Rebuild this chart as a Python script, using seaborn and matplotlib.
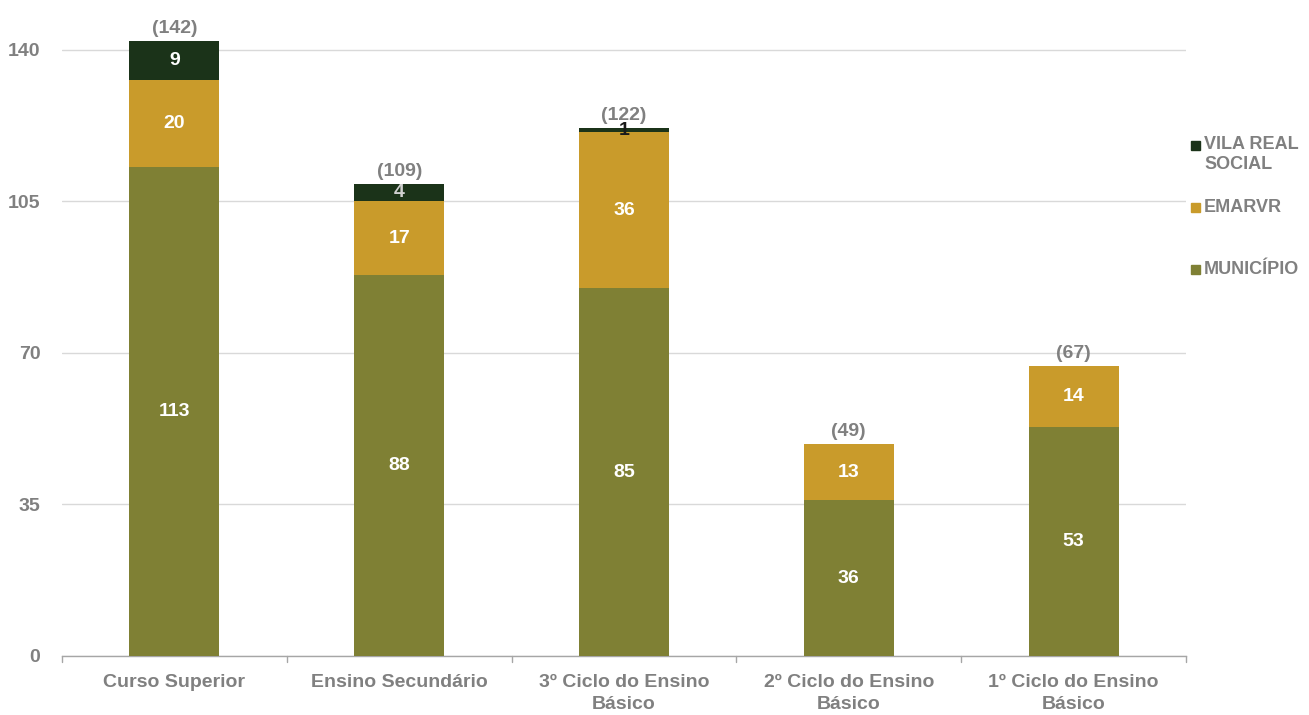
import matplotlib
matplotlib.use("Agg")
import matplotlib.pyplot as plt
import seaborn as sns
import numpy as np
import pandas as pd
from matplotlib.patches import Rectangle

categories = ["Curso Superior", "Ensino Secundário", "3º Ciclo do Ensino\nBásico",
              "2º Ciclo do Ensino\nBásico", "1º Ciclo do Ensino\nBásico"]
municipio = [113, 88, 85, 36, 53]
emarvr = [20, 17, 36, 13, 14]
vila_real = [9, 4, 1, 0, 0]
totals = [142, 109, 122, 49, 67]
yticks = [0, 35, 70, 105, 140]

C_MUN = "#7f8034"
C_EMA = "#c99b2b"
C_VIL = "#1b3319"
GRAY = "#808080"
FS = 14

sns.set_theme(style="white")
plt.rcParams['font.family'] = ['Liberation Sans', 'DejaVu Sans']

df = pd.DataFrame({"cat": categories, "mun": municipio, "ema": emarvr, "vil": vila_real})
df["lvl2"] = df["mun"] + df["ema"]
df["lvl3"] = df["lvl2"] + df["vil"]

fig = plt.figure(figsize=(13.09, 7.15), dpi=100)
ax = fig.add_axes([62/1309, 1-656/715, 1124/1309, (656-24)/715])

sns.barplot(data=df, x="cat", y="lvl3", color=C_VIL, width=0.4, ax=ax, saturation=1, zorder=3)
sns.barplot(data=df, x="cat", y="lvl2", color=C_EMA, width=0.4, ax=ax, saturation=1, zorder=3)
sns.barplot(data=df, x="cat", y="mun", color=C_MUN, width=0.4, ax=ax, saturation=1, zorder=3)
for p in ax.patches:
    p.set_edgecolor("none")

ax.set_xlim(-0.5, 4.5)
ax.set_ylim(0, 146)
ax.set_yticks(yticks)
ax.set_yticklabels([str(t) for t in yticks], fontsize=FS, fontweight="bold", color=GRAY)
ax.grid(axis="y", color="#d9d9d9", linewidth=1, zorder=0)
ax.set_axisbelow(True)
ax.tick_params(axis="y", length=0, pad=15.5)
ax.set_xticks(range(len(categories)))
ax.set_xticklabels(categories, fontsize=FS, fontweight="bold", color=GRAY, linespacing=1.4)
ax.tick_params(axis="x", length=0, pad=13)
ax.set_xlabel("")
ax.set_ylabel("")
for s in ["top", "right", "left"]:
    ax.spines[s].set_visible(False)
ax.spines["bottom"].set_color("#a6a6a6")
ax.spines["bottom"].set_linewidth(1)
for b in np.arange(-0.5, 5.0, 1.0):
    ax.plot([b, b], [0, -1.4], color="#a6a6a6", lw=1, clip_on=False)

for i in range(len(categories)):
    m, e, v = municipio[i], emarvr[i], vila_real[i]
    ax.text(i, m/2, str(m), ha="center", va="center", color="white", fontsize=FS, fontweight="bold", zorder=5)
    ax.text(i, m + e/2, str(e), ha="center", va="center", color="white", fontsize=FS, fontweight="bold", zorder=5)
    if v > 1:
        ax.text(i, m + e + v/2, str(v), ha="center", va="center",
                color="white" if v > 5 else "#d0d0d0", fontsize=FS, fontweight="bold", zorder=5)
    elif v == 1:
        ax.text(i, m + e + v/2, str(v), ha="center", va="center", color="#1a1a1a",
                fontsize=FS, fontweight="bold", zorder=5)
    ax.text(i, totals[i] + 0.9, f"({totals[i]})", ha="center", va="bottom", color=GRAY,
            fontsize=FS, fontweight="bold", zorder=5)

# legend
leg = [("VILA REAL\nSOCIAL", C_VIL, 136), ("EMARVR", C_EMA, 207), ("MUNICÍPIO", C_MUN, 269)]
for lab, col, yp in leg:
    yc = 145 if "\n" in lab else yp
    fig.add_artist(Rectangle((1191/1309, 1-(yc+4.5)/715), 9/1309, 9/715,
                             transform=fig.transFigure, color=col))
    fig.text(1204/1309, 1-yp/715, lab, ha="left", va="top" if "\n" in lab else "center",
             fontsize=13, fontweight="bold", color=GRAY, linespacing=1.2)

fig.savefig("out.png", dpi=100)
